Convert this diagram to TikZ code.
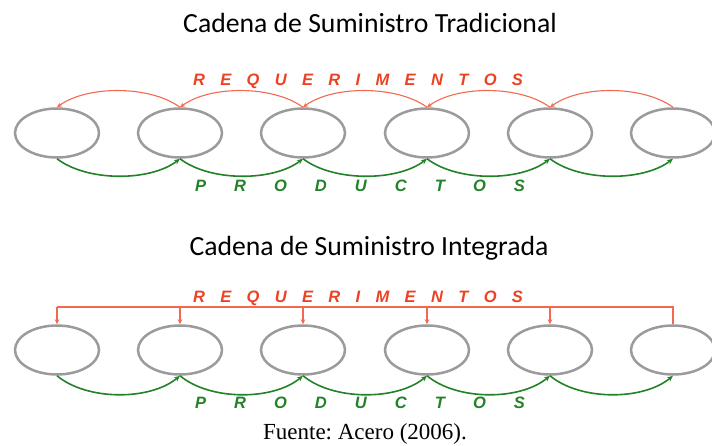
\documentclass[tikz,border=0pt]{standalone}
\usepackage{fontspec}
\setmainfont{Liberation Serif}
\newfontfamily\calibf{Carlito}
\newfontfamily\arialf{Liberation Sans}
\usetikzlibrary{arrows.meta,shapes.geometric}
\definecolor{reqred}{RGB}{236,66,36}
\definecolor{reqline}{RGB}{242,105,80}
\definecolor{prodgreen}{RGB}{34,130,40}
\definecolor{ellgray}{RGB}{155,155,155}
\frenchspacing
\begin{document}
\begin{tikzpicture}[x=1pt,y=-1pt,
  proc/.style={ellipse, draw=ellgray, line width=2.5pt, minimum width=84pt, minimum height=49pt, inner sep=0pt},
  reqarc/.style={draw=reqline, line width=1.1pt, -{Stealth[length=5pt,width=4.5pt]}},
  reqbus/.style={draw=reqline, line width=1.1pt},
  prodarc/.style={draw=prodgreen, line width=1.6pt, -{Stealth[length=6pt,width=5pt]}},
  titletxt/.style={anchor=base, inner sep=0pt, font=\calibf\fontsize{27.7}{32}\selectfont},
  reqtxt/.style={anchor=base, inner sep=0pt, text=reqred, font=\arialf\bfseries\itshape\fontsize{16.5}{19}\selectfont, execute at begin node={\spaceskip=15.35pt\relax}},
  prodtxt/.style={anchor=base, inner sep=0pt, text=prodgreen, font=\arialf\bfseries\itshape\fontsize{16.5}{19}\selectfont, execute at begin node={\spaceskip=28.05pt\relax}},
  captxt/.style={anchor=base, inner sep=0pt, font=\fontsize{23}{27}\selectfont}]
\useasboundingbox (0,0) rectangle (712,446);

% Titles
\node[titletxt] (t1) at (370,33) {Cadena de Suministro Tradicional};
\node[titletxt] (t2) at (369,256) {Cadena de Suministro Integrada};

% Top row
\foreach \i/\x in {1/57,2/180,3/303,4/427,5/550,6/673}
  \node[proc] (a\i) at (\x,133) {};
\foreach \i/\j in {2/1,3/2,4/3,5/4,6/5}
  \draw[reqarc] (a\i.north) .. controls +(-30,-22) and +(30,-22) .. (a\j.north);
\foreach \i/\j in {1/2,2/3,3/4,4/5,5/6}
  \draw[prodarc] (a\i.south) .. controls +(30,23) and +(-30,23) .. (a\j.south);
\node[reqtxt] (rq1) at (358,86) {R E Q U E R I M E N T O S};
\node[prodtxt] (pd1) at (360,192) {P R O D U C T O S};

% Bottom row
\foreach \i/\x in {1/57,2/180,3/303,4/427,5/550,6/673}
  \node[proc] (b\i) at (\x,350) {};
\coordinate (bus) at (0,307);
\draw[reqbus] (b6.north) -- (b6.north |- bus) -- (b1.north |- bus);
\foreach \i in {1,...,5}
  \draw[reqarc] (b\i.north |- bus) -- (b\i.north);
\foreach \i/\j in {1/2,2/3,3/4,4/5,5/6}
  \draw[prodarc] (b\i.south) .. controls +(30,25) and +(-30,25) .. (b\j.south);
\node[reqtxt] (rq2) at (358,303) {R E Q U E R I M E N T O S};
\node[prodtxt] (pd2) at (360,408) {P R O D U C T O S};

% Caption
\node[captxt] (cap) at (365,439) {Fuente: Acero (2006).};
\end{tikzpicture}
\end{document}
